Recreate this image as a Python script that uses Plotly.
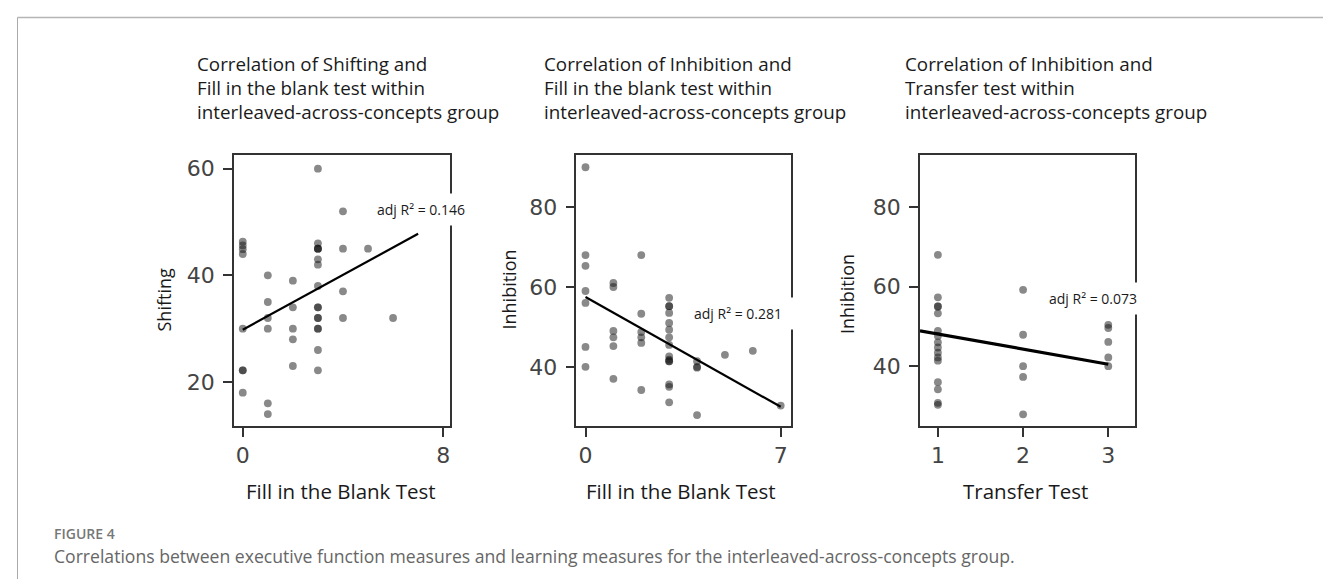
import plotly.graph_objects as go

W, H = 1331, 579

# ---------------- data ----------------
# Panel 1: Fill in the Blank Test (x) vs Shifting (y)
p1_x = [0]*8 + [1]*6 + [2]*5 + [3]*16 + [4]*4 + [5] + [6]
p1_y = [46.3, 45.6, 44.9, 44.0, 30, 22.2, 22.2, 18,
        40, 35, 32, 30, 16, 14,
        39, 34, 30, 28, 23,
        60, 46, 45, 45, 45, 43, 42, 38, 34, 34, 32, 32, 30, 30, 26, 22.2,
        52, 45, 37, 32,
        45,
        32]
p1_fit_x = [0, 7]
p1_fit = (29.8, 2.57)          # intercept, slope
p1_r2 = "adj R² = 0.146"

# Panel 2: Fill in the Blank Test (x) vs Inhibition (y)
p2_x = [0]*7 + [1]*6 + [2]*6 + [3]*15 + [4]*4 + [5] + [6] + [7]
p2_y = [90, 68, 65.3, 59, 56, 45, 40,
        61, 60, 49, 47.4, 45.2, 37,
        68, 53.3, 48.7, 47.4, 46, 34.2,
        57.3, 55.2, 55.2, 53.5, 51, 49.3, 47.4, 45.5, 42.6, 41.8, 41.4, 41.4, 35.6, 35, 31.1,
        41.4, 40, 39.8, 27.9,
        43,
        44,
        30.3]
p2_fit_x = [0, 7]
p2_fit = (57.5, -3.93)
p2_r2 = "adj R² = 0.281"

# Panel 3: Transfer Test (x) vs Inhibition (y)
p3_x = [1]*16 + [2]*5 + [3]*5
p3_y = [68, 57.3, 55, 55, 53.3, 48.9, 47.6, 46, 44.7, 43.4, 42.2, 41.4, 36, 34.2, 30.8, 30.3,
        59.2, 47.9, 40, 37.3, 27.9,
        50.4, 49.6, 46.1, 42.2, 40]
p3_fit_x = [0.79, 3]
p3_fit = (51.9, -3.8)
p3_r2 = "adj R² = 0.073"

titles = [
    ["Correlation of Shifting and", "Fill in the blank test within", "interleaved-across-concepts group"],
    ["Correlation of Inhibition and", "Fill in the blank test within", "interleaved-across-concepts group"],
    ["Correlation of Inhibition and", "Transfer test within", "interleaved-across-concepts group"],
]
x_titles = ["Fill in the Blank Test", "Fill in the Blank Test", "Transfer Test"]
y_titles = ["Shifting", "Inhibition", "Inhibition"]
x_ticks = [[0, 8], [0, 7], [1, 2, 3]]
y_ticks = [[20, 40, 60], [40, 60, 80], [40, 60, 80]]
x_ranges = [[-0.35, 8.26], [-0.33, 7.38], [0.79, 3.31]]
y_ranges = [[11.7, 62.5], [25.1, 93.0], [24.9, 93.0]]
caption_label = "FIGURE 4"
caption_text = "Correlations between executive function measures and learning measures for the interleaved-across-concepts group."

# ---------------- layout helpers ----------------
def px(x):
    return x / W

def py(y):
    return 1 - y / H

x_domains = [[px(226), px(441.7)], [px(568.3), px(783.3)], [px(912), px(1126.7)]]
y_domain = [py(418.3), py(147.3)]

fig = go.Figure()

panels = [(p1_x, p1_y, p1_fit_x, p1_fit, 2.2),
          (p2_x, p2_y, p2_fit_x, p2_fit, 2.2),
          (p3_x, p3_y, p3_fit_x, p3_fit, 3.2)]

for i, (xs, ys, fx, (b0, b1), lw) in enumerate(panels):
    xa = "x" if i == 0 else f"x{i+1}"
    ya = "y" if i == 0 else f"y{i+1}"
    fig.add_trace(go.Scatter(x=xs, y=ys, mode="markers", xaxis=xa, yaxis=ya,
                             marker=dict(size=7.8, color="rgba(20,20,20,0.5)", line=dict(width=0)),
                             showlegend=False, hoverinfo="skip"))
    fig.add_trace(go.Scatter(x=fx, y=[b0 + b1 * v for v in fx], mode="lines", xaxis=xa, yaxis=ya,
                             line=dict(color="black", width=lw),
                             showlegend=False, hoverinfo="skip"))

axis_common = dict(showline=True, mirror=True, linecolor="#333", linewidth=1.5,
                   showgrid=False, zeroline=False, ticks="outside", ticklen=9,
                   tickwidth=1.5, tickcolor="#333",
                   tickfont=dict(family="DejaVu Sans", size=22, color="#444"))

layout_axes = {}
for i in range(3):
    sx = "xaxis" if i == 0 else f"xaxis{i+1}"
    sy = "yaxis" if i == 0 else f"yaxis{i+1}"
    anchor_y = "y" if i == 0 else f"y{i+1}"
    anchor_x = "x" if i == 0 else f"x{i+1}"
    layout_axes[sx] = dict(domain=x_domains[i], range=x_ranges[i], tickvals=x_ticks[i],
                           anchor=anchor_y, ticklabelstandoff=0, **axis_common)
    layout_axes[sy] = dict(domain=y_domain, range=y_ranges[i], tickvals=y_ticks[i],
                           anchor=anchor_x, ticklabelstandoff=4, **axis_common)

fig.update_layout(width=W, height=H, margin=dict(l=0, r=0, t=0, b=0),
                  paper_bgcolor="white", plot_bgcolor="white", **layout_axes)

ann = []
title_font = dict(family="Open Sans", size=18.8, color="#1a1a1a")
title_left = [186.7, 534, 895]
line_y = [56, 80, 104]
for i in range(3):
    for j, t in enumerate(titles[i]):
        ann.append(dict(x=px(title_left[i]), y=py(line_y[j]), xref="paper", yref="paper",
                        text=t, showarrow=False, xanchor="left", yanchor="middle", font=title_font))

xt_center = [333, 673, 1017]
for i in range(3):
    ann.append(dict(x=px(xt_center[i]), y=py(483), xref="paper", yref="paper", text=x_titles[i],
                    showarrow=False, xanchor="center", yanchor="middle",
                    font=dict(family="Open Sans", size=20.5, color="#1a1a1a")))

yt_pos = [(155, 291.5), (500, 281.5), (838.5, 286.5)]
for i in range(3):
    ann.append(dict(x=px(yt_pos[i][0]), y=py(yt_pos[i][1]), xref="paper", yref="paper", text=y_titles[i],
                    showarrow=False, xanchor="center", yanchor="middle", textangle=-90,
                    font=dict(family="Open Sans", size=18, color="#1a1a1a")))

r2_pos = [(412.5, 201.7), (730, 305.5), (1085, 290.5)]
for i, t in enumerate([p1_r2, p2_r2, p3_r2]):
    ann.append(dict(x=px(r2_pos[i][0]), y=py(r2_pos[i][1]), xref="paper", yref="paper", text=t,
                    showarrow=False, xanchor="center", yanchor="middle",
                    bgcolor="white", borderpad=6, width=104,
                    font=dict(family="Open Sans", size=14, color="#1a1a1a")))

ann.append(dict(x=px(44), y=py(525), xref="paper", yref="paper", text=caption_label,
                showarrow=False, xanchor="left", yanchor="middle",
                font=dict(family="Open Sans", size=14, color="#777", weight=600)))
ann.append(dict(x=px(44), y=py(548), xref="paper", yref="paper", text=caption_text,
                showarrow=False, xanchor="left", yanchor="middle",
                font=dict(family="Open Sans", size=17.6, color="#666")))

fig.update_layout(annotations=ann)

fig.update_layout(shapes=[
    dict(type="line", xref="paper", yref="paper", x0=px(9.5), x1=1, y0=py(9.5), y1=py(9.5),
         line=dict(color="#b5b5b5", width=1.5)),
    dict(type="line", xref="paper", yref="paper", x0=px(9.5), x1=px(9.5), y0=py(9.5), y1=0,
         line=dict(color="#aaaaaa", width=1)),
])

fig.write_html("out.html")
